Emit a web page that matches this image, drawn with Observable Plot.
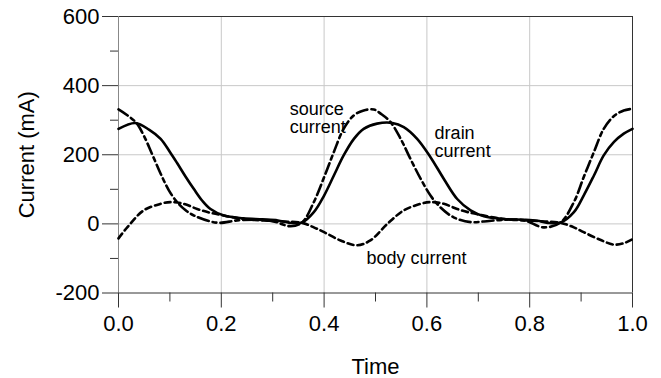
<!DOCTYPE html>
<html><head><meta charset="utf-8">
<script src="https://cdn.jsdelivr.net/npm/d3@7"></script>
<script src="https://cdn.jsdelivr.net/npm/@observablehq/plot@0.6"></script>
<style>body{margin:0;background:#fff} svg{display:block}</style>
</head><body><div id="chart"></div>
<script>
const drainT = [0, 0.033, 0.06, 0.082, 0.1, 0.114, 0.13, 0.147, 0.163, 0.179, 0.205, 0.243, 0.28, 0.31, 0.333, 0.357, 0.38, 0.4, 0.419, 0.438, 0.458, 0.477, 0.503, 0.533, 0.555, 0.581, 0.607, 0.633, 0.659, 0.685, 0.711, 0.75, 0.79, 0.815, 0.835, 0.86, 0.886, 0.905, 0.925, 0.944, 0.964, 0.983, 1.0];
const drainV = [275, 292, 272, 246, 208, 176, 138, 100, 67, 43, 24, 16, 13, 10, 3, 4, 34, 82, 140, 198, 246, 275, 290, 292, 280, 246, 193, 130, 72, 39, 22, 14, 12, 9, 3, 4, 34, 82, 140, 198, 237, 261, 275];

const sourceT = [0, 0.033, 0.049, 0.065, 0.082, 0.098, 0.114, 0.13, 0.147, 0.179, 0.198, 0.231, 0.27, 0.3, 0.335, 0.357, 0.38, 0.4, 0.419, 0.438, 0.458, 0.477, 0.497, 0.51, 0.529, 0.549, 0.568, 0.588, 0.607, 0.626, 0.652, 0.685, 0.711, 0.75, 0.79, 0.827, 0.86, 0.886, 0.905, 0.925, 0.944, 0.964, 0.983, 1.0];
const sourceV = [331, 295, 256, 203, 145, 97, 63, 40, 24, 7, 3, 10, 12, 8, -7, 4, 63, 135, 208, 275, 314, 328, 331, 319, 295, 246, 188, 130, 82, 48, 19, 5, 7, 12, 10, -10, 4, 63, 135, 208, 275, 312, 328, 333];

const bodyT = [0, 0.017, 0.049, 0.082, 0.101, 0.127, 0.153, 0.179, 0.205, 0.244, 0.28, 0.32, 0.357, 0.38, 0.4, 0.432, 0.464, 0.49, 0.523, 0.555, 0.588, 0.607, 0.633, 0.659, 0.685, 0.711, 0.75, 0.79, 0.83, 0.86, 0.886, 0.905, 0.937, 0.964, 0.983, 1.0];
const bodyV = [-42, -10, 39, 58, 63, 58, 43, 32, 24, 14, 10, 7, 3, -10, -24, -48, -62, -48, 0, 39, 58, 63, 58, 43, 32, 24, 14, 10, 7, 3, -10, -24, -46, -60, -56, -44];

const xMajor = [0, 0.2, 0.4, 0.6, 0.8, 1.0];
const xMinor = [0.1, 0.3, 0.5, 0.7, 0.9];
const xGrid = [0.2, 0.4, 0.6, 0.8];
const yMajor = [-200, 0, 200, 400, 600];
const yMinor = [-100, 100, 300, 500];
const yGrid = [0, 200, 400];

const curveLabels = [
  {text: "source\ncurrent", t: 0.333, v: 262},
  {text: "drain\ncurrent", t: 0.615, v: 193},
  {text: "body current", t: 0.4825, v: -115}
];

const toRows = (T, V) => T.map((t, i) => ({t, v: V[i]}));
const drain = toRows(drainT, drainV);
const source = toRows(sourceT, sourceV);
const body = toRows(bodyT, bodyV);

const chart = Plot.plot({
  width: 661, height: 378,
  marginLeft: 118, marginRight: 29, marginTop: 16, marginBottom: 85.5,
  x: {domain: [0, 1]},
  y: {domain: [-200, 600]},
  style: {fontFamily: "'Liberation Sans', Arial, sans-serif", background: "white", color: "black", overflow: "visible"},
  marks: [
    Plot.gridX(xGrid, {stroke: "#c8c8c8", strokeOpacity: 1}),
    Plot.gridY(yGrid, {stroke: "#c8c8c8", strokeOpacity: 1}),
    Plot.ruleY([600], {stroke: "#333"}),
    Plot.ruleY([-200], {stroke: "#333"}),
    Plot.ruleX([1], {stroke: "#333"}),
    Plot.ruleX([0], {stroke: "#888"}),
    Plot.axisY(yMajor, {tickSize: 16, tickPadding: 3, fontSize: 22, label: null, stroke: "#333", tickFormat: d => String(d)}),
    Plot.axisY(yMinor, {tickSize: 8, label: null, stroke: "#333", tickFormat: () => ""}),
    Plot.axisX(xMajor, {tickSize: 15, tickPadding: 7, fontSize: 22, label: null, stroke: "#333", tickFormat: d3.format(".1f")}),
    Plot.axisX(xMinor, {tickSize: 9, label: null, stroke: "#333", tickFormat: () => ""}),
    Plot.line(body, {x: "t", y: "v", curve: "catmull-rom", stroke: "black", strokeWidth: 2.6, strokeDasharray: "6,4"}),
    Plot.line(source, {x: "t", y: "v", curve: "catmull-rom", stroke: "black", strokeWidth: 2.6, strokeDasharray: "11,4,4,4"}),
    Plot.line(drain, {x: "t", y: "v", curve: "catmull-rom", stroke: "black", strokeWidth: 2.6}),
    Plot.text(curveLabels, {x: "t", y: "v", text: "text", textAnchor: "start", lineAnchor: "bottom", lineHeight: 1, fontSize: 18, fill: "black"}),
    Plot.text(["Current (mA)"], {frameAnchor: "left", dx: -92, rotate: -90, textAnchor: "middle", lineAnchor: "middle", fontSize: 22, fill: "black"}),
    Plot.text(["Time"], {frameAnchor: "bottom", dy: 74, textAnchor: "middle", lineAnchor: "middle", fontSize: 22, fill: "black"})
  ]
});
document.getElementById("chart").appendChild(chart);
</script>
</body></html>
